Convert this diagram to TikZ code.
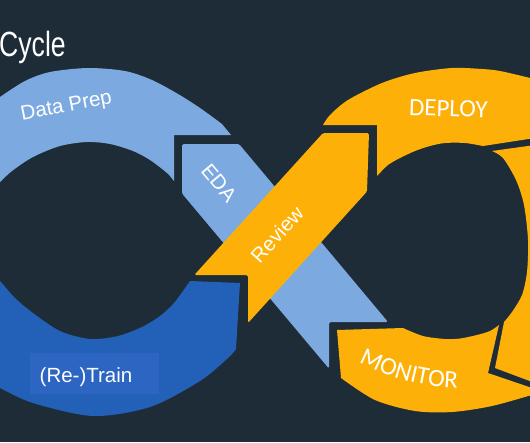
\documentclass[tikz,border=0pt]{standalone}
\usepackage{fontspec}
\setmainfont{Liberation Sans}
\newfontfamily\calib{Carlito}
\definecolor{bgc}{RGB}{30,44,55}
\definecolor{lbc}{RGB}{124,170,224}
\definecolor{dbc}{RGB}{35,97,184}
\definecolor{dblc}{RGB}{45,101,194}
\definecolor{orc}{RGB}{253,176,8}
\begin{document}
\begin{tikzpicture}[x=1pt,y=-1pt,
  lab/.style={text=white,inner sep=0pt,font=\fontsize{20.5}{24}\selectfont},
  caplab/.style={text=white,inner sep=0pt,font=\calib\fontsize{25}{30}\selectfont},
  monlet/.style={caplab,anchor=base},
  lbpiece/.style={fill=lbc},
  dbpiece/.style={fill=dbc},
  orpiece/.style={fill=orc}]
\useasboundingbox (0,0) rectangle (530,442);
\fill[bgc] (0,0) rectangle (530,442);
\begin{scope}
\clip (0,0) rectangle (530,442);
% Data Prep (light blue arc)
\fill[lbpiece] plot[smooth] coordinates {(-6,102) (0,97) (25,81) (50,72) (88,68) (125,71) (152,80) (178,94) (200,108) (222,124)}
  -- (231,135) -- (174,135) -- (174,181)
  -- plot[smooth] coordinates {(174,181) (167,173) (150,160) (133,151) (110,144) (87,142) (60,146) (33,157) (12,171) (0,182) (-6,188)} -- cycle;
% EDA (light blue diagonal)
\fill[lbpiece,rounded corners=1.5pt] (182,144) -- (239,144) -- (388,322) -- (329,322) -- (329,368.6) -- (182,193.5) -- cycle;
% (Re-)Train (dark blue)
\fill[dbpiece] (190,281) -- (240,283) -- (236,349)
  -- plot[smooth] coordinates {(236,349) (228,358) (200,381) (150,407) (93,416) (33,403) (0,388) (-6,385)}
  -- (-6,276)
  -- plot[smooth] coordinates {(-6,276) (0,281) (15,298) (33,313) (60,331) (90,339) (118,336) (142,327) (160,316) (174,303) (190,281)} -- cycle;
\fill[dblc] (30,353) rectangle (159,394);
% MONITOR (orange)
\fill[orpiece] (337,330) -- (403,328)
  -- plot[smooth] coordinates {(403,328) (423,336) (445,339) (460,338.5) (477,335) (490,331) (499,325)}
  -- (488,373) -- (535,389) -- (535,394)
  -- plot[smooth] coordinates {(535,394) (492,406) (452,412) (415,411) (375,400) (341,378)} -- cycle;
% right segment (orange)
\fill[orpiece] (492,151) -- (535,145) -- (535,383) -- (495,368) -- (504,322)
  -- plot[smooth] coordinates {(504,322) (512,312) (522,295) (527,272) (528,240) (524,205) (516,180) (503,158) (492,151)} -- cycle;
% DEPLOY (orange)
\fill[orpiece] (323,125) -- (377,125) -- (377,176)
  -- plot[smooth] coordinates {(377,176) (388,165) (400,158) (415,151) (430,146) (445,143) (465,143) (483,146)}
  -- (535,138) -- (535,80)
  -- plot[smooth] coordinates {(535,80) (530,78) (500,71) (482,69) (452,68) (415,73) (382,83) (348,100) (330,115) (323,125)} -- cycle;
% Review (orange diagonal, on top)
\fill[orpiece,rounded corners=1.5pt] (194.3,275) -- (323,133) -- (369,133) -- (367,191.5) -- (248,323) -- (248,275) -- cycle;
% labels
\node[text=white,inner sep=0pt,anchor=base west,font=\fontsize{35}{40}\selectfont] (title) at (-1,56) {\scalebox{0.76}[1]{Cycle}};
\node[lab,anchor=base,rotate=11] (dataprep) at (67.4,111.8) {Data Prep};
\node[lab,rotate=-50] (eda) at (219,183) {EDA};
\node[lab,rotate=48] (review) at (277,234.5) {Review};
\node[lab,anchor=base west] (retrain) at (39.5,382.7) {(Re-)Train};
\node[caplab,anchor=base,rotate=-2] (deploy) at (448,116.5) {DEPLOY};
\node[monlet,rotate=-24.8] (mon1) at (368.4,367.0) {M};
\node[monlet,rotate=-20.0] (mon2) at (385.9,374.2) {O};
\node[monlet,rotate=-15.9] (mon3) at (401.5,379.3) {N};
\node[monlet,rotate=-13.1] (mon4) at (412.4,382.1) {I};
\node[monlet,rotate=-10.8] (mon5) at (421.4,384.0) {T};
\node[monlet,rotate=-7.1] (mon6) at (435.7,386.2) {O};
\node[monlet,rotate=-3.3] (mon7) at (450.7,387.6) {R};
\end{scope}
\end{tikzpicture}
\end{document}
